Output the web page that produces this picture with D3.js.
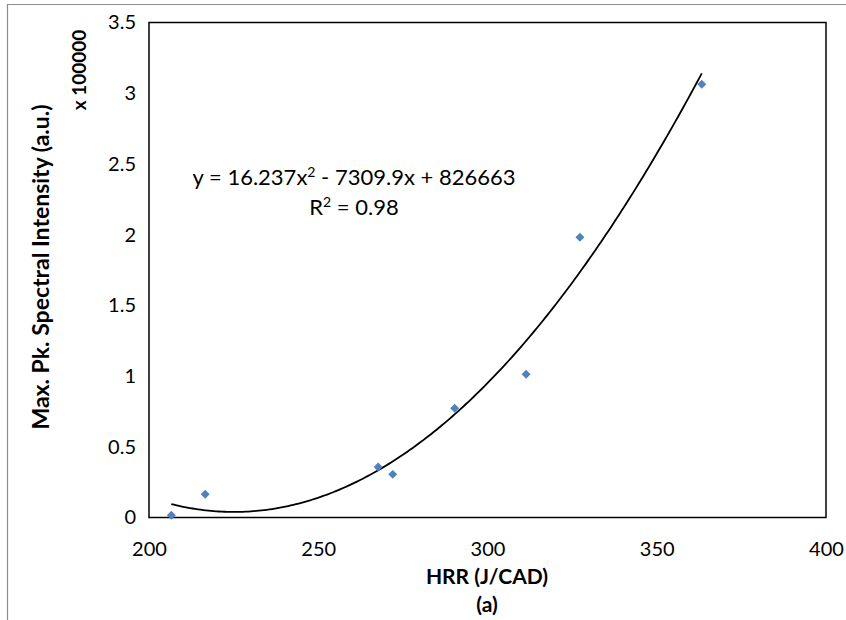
<!DOCTYPE html>
<html><head><meta charset="utf-8">
<script src="https://cdn.jsdelivr.net/npm/d3@7"></script>
<style>
body{margin:0;background:#fff}
text{font-family:Lato,"Open Sans",sans-serif;fill:#000}
</style>
</head><body>
<svg id="c" width="846" height="620"></svg>
<script>
// Data
const hrr = [206.6, 216.6, 267.7, 272.0, 290.3, 311.4, 327.3, 363.3];
const intensity = [0.016, 0.164, 0.357, 0.305, 0.772, 1.013, 1.981, 3.063]; // x 100000
const xTicks = [200, 250, 300, 350, 400];
const yTicks = [0, 0.5, 1, 1.5, 2, 2.5, 3, 3.5];
const trendCoef = [16.237, -7309.9, 826663]; // y = a x^2 + b x + c (raw units)
const yMultiplier = 100000;
const eqLine1 = ["y = 16.237x", "2", " - 7309.9x + 826663"];
const eqLine2 = ["R", "2", " = 0.98"];

const svg = d3.select("#c");
const L = 149, R = 826, T = 22.5, B = 517.5;
const FONT = "Lato,'Open Sans',sans-serif";

// outer border
svg.append("path").attr("d", "M7.5,625 V4.5 H850").attr("fill", "none").attr("stroke", "#8c8c8c").attr("stroke-width", 1.2);

const x = d3.scaleLinear().domain([200, 400]).range([L, R]);
const y = d3.scaleLinear().domain([0, 3.5]).range([B, T]);

// plot frame
svg.append("rect").attr("x", L).attr("y", T).attr("width", R - L).attr("height", B - T)
  .attr("fill", "none").attr("stroke", "#000").attr("stroke-width", 1.5);

// y axis
const gy = svg.append("g").attr("transform", `translate(${L},0)`)
  .call(d3.axisLeft(y).tickValues(yTicks).tickSize(0).tickPadding(13).tickFormat(d => String(d)));
gy.select(".domain").remove();
gy.selectAll("text").attr("font-size", 20).attr("font-family", FONT).attr("fill", "#000");

// x axis
const gx = svg.append("g").attr("transform", `translate(0,${B})`)
  .call(d3.axisBottom(x).tickValues(xTicks).tickSize(0).tickPadding(24).tickFormat(d => String(d)));
gx.select(".domain").remove();
gx.selectAll("text").attr("font-size", 20).attr("font-family", FONT).attr("fill", "#000");

// trendline
const xmin = d3.min(hrr), xmax = d3.max(hrr);
const trendX = d3.range(0, 201).map(i => xmin + (xmax - xmin) * i / 200);
const f = v => (trendCoef[0] * v * v + trendCoef[1] * v + trendCoef[2]) / yMultiplier;
svg.append("path").datum(trendX)
  .attr("d", d3.line().x(d => x(d)).y(d => y(f(d))))
  .attr("fill", "none").attr("stroke", "#000").attr("stroke-width", 1.8);

// points (diamonds)
svg.append("g").selectAll("path").data(hrr.map((h, i) => [h, intensity[i]])).join("path")
  .attr("d", d3.symbol().type(d3.symbolSquare).size(40))
  .attr("transform", d => `translate(${x(d[0])},${y(d[1])}) rotate(45)`)
  .attr("fill", "#4F81BD");

// equation
function eq(parts, cx, cy) {
  const t = svg.append("text").attr("x", cx).attr("y", cy).attr("text-anchor", "middle")
    .attr("font-size", 22);
  t.append("tspan").text(parts[0]);
  t.append("tspan").attr("dy", -8).attr("font-size", 14).text(parts[1]);
  t.append("tspan").attr("dy", 8).text(parts[2]);
}
eq(eqLine1, 354, 185);
eq(eqLine2, 354, 215);

// axis titles
svg.append("text").attr("x", 487).attr("y", 584).attr("text-anchor", "middle")
  .attr("font-size", 21).attr("font-weight", "bold").text("HRR (J/CAD)");
svg.append("text").attr("x", 487).attr("y", 612).attr("text-anchor", "middle")
  .attr("font-size", 21).attr("font-weight", "bold").text("(a)");
svg.append("text").attr("transform", "translate(49,267) rotate(-90)").attr("text-anchor", "middle")
  .attr("font-size", 23).attr("font-weight", "bold").text("Max. Pk. Spectral Intensity (a.u.)");
svg.append("text").attr("transform", "translate(86,70) rotate(-90)").attr("text-anchor", "middle")
  .attr("font-size", 19).attr("font-weight", "bold").text("x 100000");
</script>
</body></html>
